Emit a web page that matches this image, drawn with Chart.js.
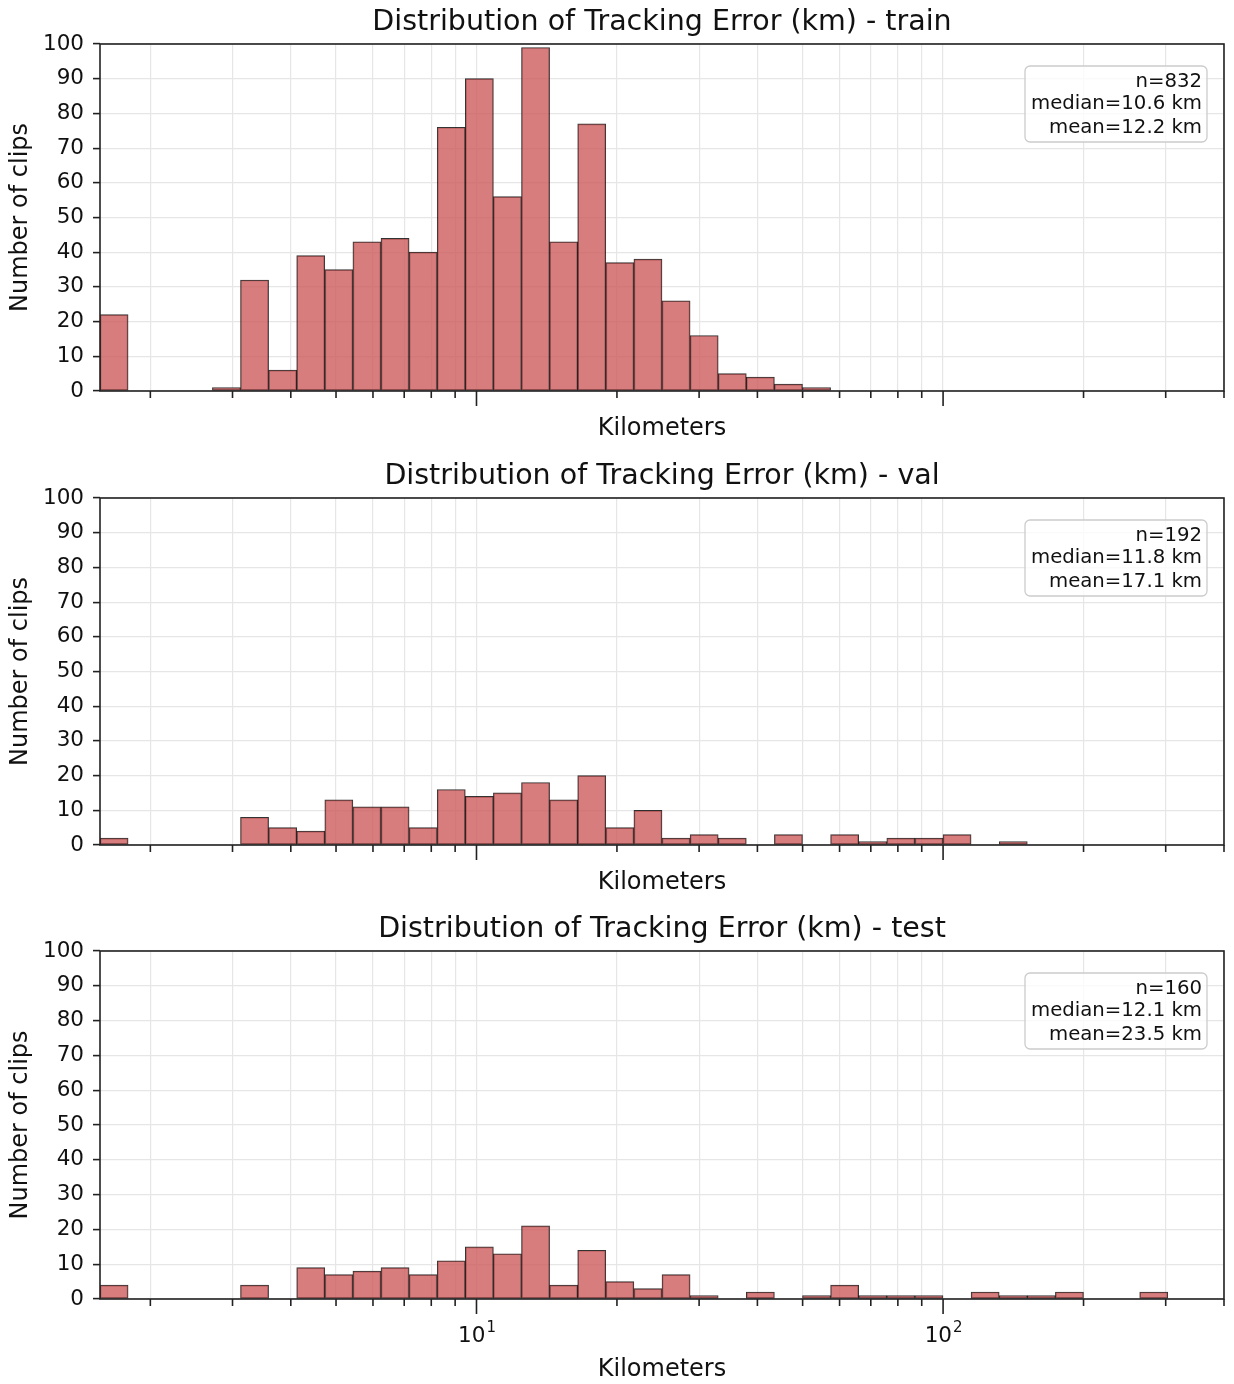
<!DOCTYPE html>
<html>
<head>
<meta charset="utf-8">
<script src="https://cdn.jsdelivr.net/npm/chart.js@4/dist/chart.umd.min.js"></script>
<style>
  body { margin: 0; background: #fff; }
  #wrap { position: relative; width: 1234px; height: 1384px; }
  canvas { position: absolute; left: 0; }
</style>
</head>
<body>
<div id="wrap">
  <canvas id="trainChart" width="1234" height="454" style="top:0px"></canvas>
  <canvas id="valChart" width="1234" height="454" style="top:454px"></canvas>
  <canvas id="testChart" width="1234" height="477" style="top:907px"></canvas>
</div>
<script>
// histogram bins: 40 log-spaced bins between X_MIN and X_MAX km
const X_MIN = 1.56;
const X_MAX = 400;
const N_BINS = 40;

const trainCounts = [22, 0, 0, 0, 1, 32, 6, 39, 35, 43, 44, 40, 76, 90, 56, 99, 43, 77, 37, 38,
                     26, 16, 5, 4, 2, 1, 0, 0, 0, 0, 0, 0, 0, 0, 0, 0, 0, 0, 0, 0];
const valCounts = [2, 0, 0, 0, 0, 8, 5, 4, 13, 11, 11, 5, 16, 14, 15, 18, 13, 20, 5, 10,
                   2, 3, 2, 0, 3, 0, 3, 1, 2, 2, 3, 0, 1, 0, 0, 0, 0, 0, 0, 0];
const testCounts = [4, 0, 0, 0, 0, 4, 0, 9, 7, 8, 9, 7, 11, 15, 13, 21, 4, 14, 5, 3,
                    7, 1, 0, 2, 0, 1, 4, 1, 1, 1, 0, 2, 1, 1, 2, 0, 0, 2, 0, 0];

const trainStats = ['n=832', 'median=10.6 km', 'mean=12.2 km'];
const valStats = ['n=192', 'median=11.8 km', 'mean=17.1 km'];
const testStats = ['n=160', 'median=12.1 km', 'mean=23.5 km'];

const xTickValues = [2, 3, 4, 5, 6, 7, 8, 9, 10, 20, 30, 40, 50, 60, 70, 80, 90, 100, 200, 300, 400];
const majorTicks = { 10: '1', 100: '2' };   // decade -> exponent
const yTickStep = 10;

const FONT = "'DejaVu Sans', sans-serif";
const INK = '#111';
const SPINE = '#222';
const PLOT_LEFT = 100, PLOT_RIGHT = 1224;

function binCenters() {
    const lo = Math.log10(X_MIN), hi = Math.log10(X_MAX);
    const w = (hi - lo) / N_BINS;
    const out = [];
    for (let i = 0; i < N_BINS; i++) out.push(Math.pow(10, lo + (i + 0.5) * w));
    return out;
}

const frameAndStats = {
    id: 'statsBox',
    afterDatasetsDraw(chart, args, opts) {
        const { ctx, chartArea: a, scales: { x } } = chart;
        ctx.save();
        // x tick marks, long for decades
        ctx.strokeStyle = SPINE;
        ctx.lineWidth = 1.6;
        xTickValues.forEach(v => {
            const px = x.getPixelForValue(v);
            const len = majorTicks[v] ? 15 : 7;
            ctx.beginPath();
            ctx.moveTo(px, a.bottom);
            ctx.lineTo(px, a.bottom + len);
            ctx.stroke();
        });
        // spines
        ctx.strokeRect(a.left, a.top, a.right - a.left, a.bottom - a.top);

        // decade labels 10^n on the last panel
        if (opts.decadeLabels) {
            ctx.fillStyle = INK;
            ctx.textAlign = 'left';
            ctx.textBaseline = 'alphabetic';
            Object.keys(majorTicks).forEach(v => {
                const px = x.getPixelForValue(Number(v));
                ctx.font = '21.5px ' + FONT;
                const w1 = ctx.measureText('10').width;
                ctx.font = '15px ' + FONT;
                const w2 = ctx.measureText(majorTicks[v]).width;
                const x0 = px - (w1 + w2) / 2;
                ctx.font = '21.5px ' + FONT;
                ctx.fillText('10', x0, a.bottom + 43);
                ctx.font = '15px ' + FONT;
                ctx.fillText(majorTicks[v], x0 + w1 + 1, a.bottom + 33);
            });
        }

        // stats box top right
        const bw = 182, bh = 76;
        const bx = a.right - 17 - bw, by = a.top + 22;
        ctx.beginPath();
        ctx.roundRect(bx, by, bw, bh, 5);
        ctx.fillStyle = 'rgba(255,255,255,0.8)';
        ctx.fill();
        ctx.strokeStyle = '#cccccc';
        ctx.lineWidth = 1.3;
        ctx.stroke();
        ctx.fillStyle = INK;
        ctx.font = '19.7px ' + FONT;
        ctx.textAlign = 'right';
        ctx.textBaseline = 'alphabetic';
        const baselines = [20.7, 43.3, 67.3];
        opts.lines.forEach((t, i) => ctx.fillText(t, bx + bw - 5, by + baselines[i]));
        ctx.restore();
    }
};

function makeChart(id, split, counts, stats, showLabels) {
    const centers = binCenters();
    const axisH = showLabels ? 85 : 63;
    return new Chart(document.getElementById(id), {
        type: 'bar',
        data: {
            datasets: [{
                data: centers.map((c, i) => ({ x: c, y: counts[i] })),
                backgroundColor: 'rgba(205,92,92,0.8)',
                borderColor: 'rgba(0,0,0,0.8)',
                borderWidth: 1,
                borderSkipped: false,
                barThickness: (PLOT_RIGHT - PLOT_LEFT) / N_BINS
            }]
        },
        options: {
            responsive: false,
            animation: false,
            layout: { padding: { left: 0, right: 1234 - PLOT_RIGHT, top: 0, bottom: 0 } },
            plugins: {
                legend: { display: false },
                tooltip: { enabled: false },
                title: {
                    display: true,
                    fullSize: false,
                    text: 'Distribution of Tracking Error (km) - ' + split,
                    font: { family: FONT, size: 28.5, weight: 'normal' },
                    color: INK,
                    padding: { top: 5.5, bottom: 4.3 }
                },
                statsBox: { lines: stats, decadeLabels: showLabels }
            },
            scales: {
                x: {
                    type: 'logarithmic',
                    min: X_MIN,
                    max: X_MAX,
                    offset: false,
                    afterBuildTicks: s => { s.ticks = xTickValues.map(v => ({ value: v })); },
                    afterFit: s => { s.height = axisH; s.paddingLeft = 0; s.paddingRight = 0; },
                    grid: { offset: false, color: '#e6e6e6', lineWidth: 1.2, drawTicks: false },
                    border: { display: false },
                    ticks: { display: false },
                    title: {
                        display: true,
                        text: 'Kilometers',
                        color: INK,
                        font: { family: FONT, size: 24 },
                        padding: { top: 0, bottom: showLabels ? 0 : 10.8 }
                    }
                },
                y: {
                    min: 0,
                    max: 100,
                    afterFit: s => { s.width = PLOT_LEFT; },
                    grid: { color: '#e6e6e6', lineWidth: 1.2, tickLength: 7, tickColor: SPINE, tickWidth: 1.6 },
                    border: { display: false },
                    ticks: {
                        stepSize: yTickStep,
                        padding: 9,
                        color: INK,
                        font: { family: FONT, size: 21.5 }
                    },
                    title: {
                        display: true,
                        text: 'Number of clips',
                        color: INK,
                        font: { family: FONT, size: 24 },
                        padding: { top: 6, bottom: 0 }
                    }
                }
            }
        },
        plugins: [frameAndStats]
    });
}

makeChart('trainChart', 'train', trainCounts, trainStats, false);
makeChart('valChart', 'val', valCounts, valStats, false);
makeChart('testChart', 'test', testCounts, testStats, true);
</script>
</body>
</html>
